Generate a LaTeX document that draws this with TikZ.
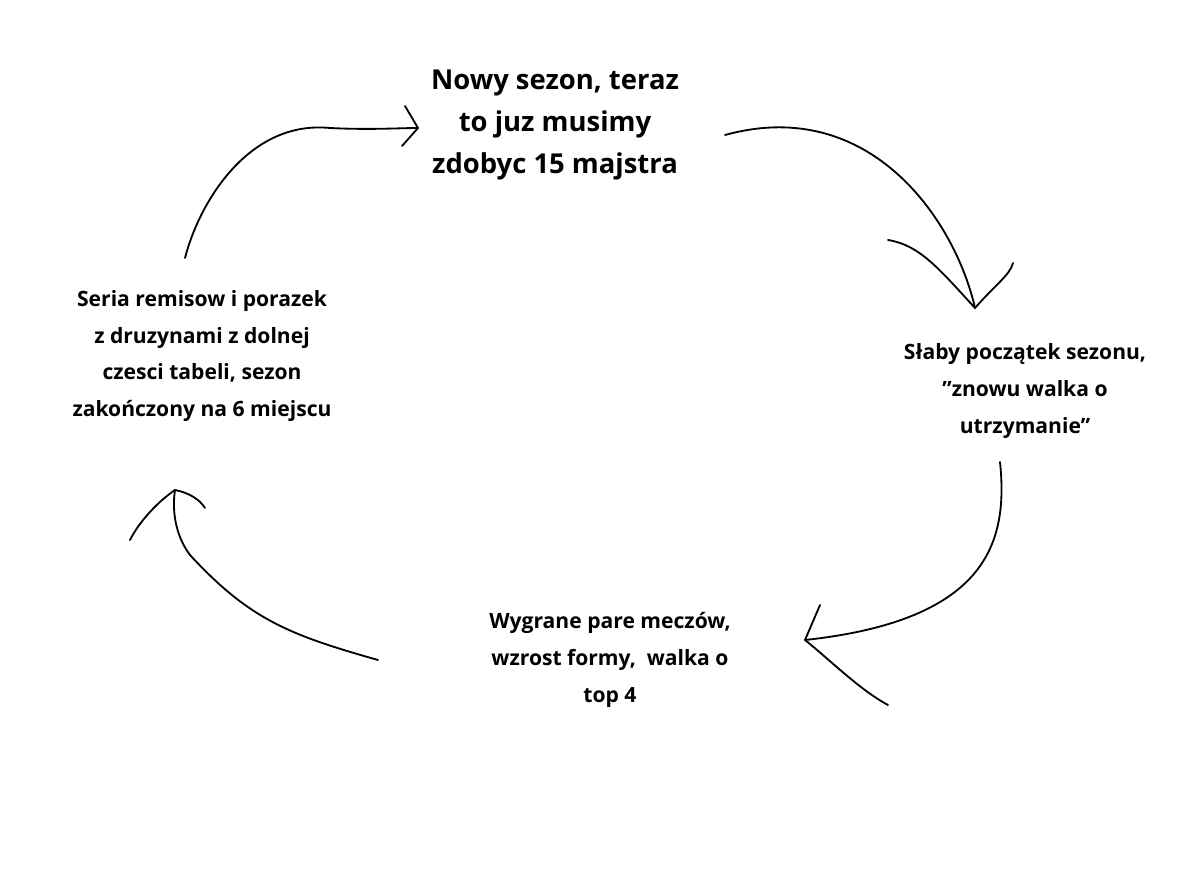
\documentclass[tikz,border=0pt]{standalone}
\usepackage{fontspec}
\setmainfont{Open Sans}
\begin{document}
\begin{tikzpicture}[x=0.025cm,y=-0.025cm,
  lbl/.style={align=center,font=\bfseries\fontsize{15}{26}\selectfont},
  hand/.style={line width=1.3pt,line cap=round,line join=round}]
\useasboundingbox (0,0) rectangle (1200,886);
\node[lbl,font=\bfseries\fontsize{19.5}{30}\selectfont] (top) at (555,125) {Nowy sezon, teraz\\to juz musimy\\zdobyc 15 majstra};
\node[lbl] (right) at (1025,391) {Słaby początek sezonu,\\"znowu walka o\\utrzymanie"};
\node[lbl] (bot) at (610,660) {Wygrane pare meczów,\\wzrost formy,\ \ walka o\\top 4};
\node[lbl] (left) at (202,356) {Seria remisow i porazek\\z druzynami z dolnej\\czesci tabeli, sezon\\zakończony na 6 miejscu};
\coordinate (a1s) at (725,135); \coordinate (a1e) at (975,308);
\coordinate (a2s) at (1000,462); \coordinate (a2e) at (805,640);
\coordinate (a3s) at (378,660); \coordinate (a3e) at (175,490);
\coordinate (a4s) at (185,258); \coordinate (a4e) at (418,128);
\draw[hand] (a1s) .. controls (870,95) and (955,220) .. (a1e);
\draw[hand] (a1e) .. controls (940,270) and (920,245) .. (888,240);
\draw[hand] (a1e) .. controls (995,285) and (1010,275) .. (1013,263);
\draw[hand] (a2s) .. controls (1008,540) and (990,620) .. (a2e);
\draw[hand] (a2e) -- (820,605);
\draw[hand] (a2e) .. controls (830,660) and (860,690) .. (888,705);
\draw[hand] (a3s) .. controls (290,635) and (250,620) .. (190,555) .. controls (175,535) and (172,510) .. (a3e);
\draw[hand] (a3e) .. controls (160,500) and (140,520) .. (130,540);
\draw[hand] (a3e) .. controls (190,493) and (200,500) .. (205,508);
\draw[hand] (a4s) .. controls (200,200) and (250,120) .. (330,128) .. controls (370,130) and (400,128) .. (a4e);
\draw[hand] (a4e) -- (405,106);
\draw[hand] (a4e) -- (402,146);
\end{tikzpicture}
\end{document}
